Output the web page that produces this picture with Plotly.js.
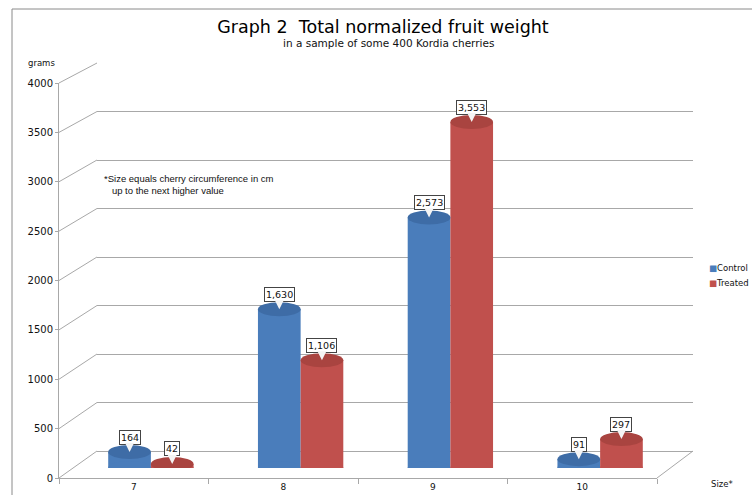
<!DOCTYPE html>
<html>
<head>
<meta charset="utf-8">
<script src="https://cdn.plot.ly/plotly-3.0.1.min.js"></script>
<style>html,body{margin:0;padding:0;background:#fff;}#chart{width:752px;height:495px;}</style>
</head>
<body>
<div id="chart"></div>
<script>
// ---- data ----
const categories = [7, 8, 9, 10];
const tickLabels = ['7', '8', '9', '10'];
const seriesNames = ['Control', 'Treated'];
const controlValues = [164, 1630, 2573, 91];
const treatedValues = [42, 1106, 3553, 297];
const yTicks = [0, 500, 1000, 1500, 2000, 2500, 3000, 3500, 4000];

// ---- styling ----
const W = 752, H = 495;
const px = x => x / W;
const py = y => 1 - y / H;
const FONT = 'DejaVu Sans, sans-serif';
const sideColors = ['#4a7dbb', '#c0504d'];
const topColors = ['#3e6ca6', '#a94440'];
const gridColor = '#a8a8a8';
const barW = 0.285;
const series = [controlValues, treatedValues];

const frontY = [py(478), py(83)];
const backY = [py(451), py(63)];
const yMax = 4000;

const traces = [
  {x: [], y: [], type: 'scatter', xaxis: 'x', yaxis: 'y', showlegend: false, hoverinfo: 'skip'},
  {x: [], y: [], type: 'scatter', xaxis: 'x2', yaxis: 'y2', showlegend: false, hoverinfo: 'skip'}
];
series.forEach((vals, i) => {
  traces.push({
    type: 'bar', name: seriesNames[i], x: categories, y: vals,
    xaxis: 'x3', yaxis: 'y3', width: barW, offset: i === 0 ? -barW : 0,
    marker: {color: sideColors[i], line: {width: 0}},
    hoverinfo: 'skip', showlegend: false
  });
});

const shapes = [];
// 3D connectors from front axis to back wall
yTicks.forEach(v => {
  const f = frontY[0] + v / yMax * (frontY[1] - frontY[0]);
  const b = backY[0] + v / yMax * (backY[1] - backY[0]);
  shapes.push({type: 'line', xref: 'paper', yref: 'paper', x0: px(59), y0: f, x1: px(97), y1: b,
    line: {color: gridColor, width: 1}, layer: 'below'});
});
shapes.push({type: 'line', xref: 'paper', yref: 'paper', x0: px(657), y0: frontY[0], x1: px(693), y1: backY[0],
  line: {color: gridColor, width: 1}, layer: 'below'});
// chart frame
shapes.push({type: 'rect', xref: 'paper', yref: 'paper', x0: px(12), y0: py(9), x1: px(800), y1: py(540),
  line: {color: '#8a8a8a', width: 1}, layer: 'below'});

const annotations = [];
series.forEach((vals, i) => {
  vals.forEach((v, j) => {
    const xc = categories[j] + (i === 0 ? -barW / 2 : barW / 2);
    // cylinder bottom and top ellipses
    shapes.push({type: 'circle', xref: 'x3', yref: 'y3', x0: xc - barW / 2, x1: xc + barW / 2,
      ysizemode: 'pixel', yanchor: 0, y0: -7, y1: 7, fillcolor: sideColors[i], line: {width: 0}});
    shapes.push({type: 'circle', xref: 'x3', yref: 'y3', x0: xc - barW / 2, x1: xc + barW / 2,
      ysizemode: 'pixel', yanchor: v, y0: -7, y1: 7, fillcolor: topColors[i], line: {width: 0}});
    annotations.push({xref: 'x3', yref: 'y3', x: xc, y: v, text: v.toLocaleString('en-US'),
      showarrow: true, ax: 0, ay: -15, arrowhead: 2, arrowsize: 1.2, arrowwidth: 1.5, arrowcolor: '#f4f4f4', standoff: 0,
      bgcolor: '#ffffff', bordercolor: '#444', borderwidth: 1, borderpad: 1,
      font: {family: FONT, size: 9.5, color: '#111'}});
  });
});

// subtitle, notes, axis labels, legend
annotations.push({xref: 'paper', yref: 'paper', x: px(388), y: py(43), text: 'in a sample of some 400 Kordia cherries',
  showarrow: false, font: {family: FONT, size: 10.5, color: '#111'}, xanchor: 'center', yanchor: 'middle'});
annotations.push({xref: 'paper', yref: 'paper', x: px(102), y: py(185),
  text: '*Size equals cherry circumference in cm<br>   up to the next higher value',
  align: 'left', showarrow: false, font: {family: 'Liberation Sans, Arial, sans-serif', size: 9.5, color: '#111'},
  xanchor: 'left', yanchor: 'middle'});
annotations.push({xref: 'paper', yref: 'paper', x: px(26), y: py(63), text: 'grams', showarrow: false,
  font: {family: FONT, size: 8.5, color: '#111'}, xanchor: 'left', yanchor: 'middle'});
annotations.push({xref: 'paper', yref: 'paper', x: px(709), y: py(484), text: 'Size*', showarrow: false,
  font: {family: FONT, size: 8.5, color: '#111'}, xanchor: 'left', yanchor: 'middle'});
seriesNames.forEach((n, i) => {
  annotations.push({xref: 'paper', yref: 'paper', x: px(707), y: py(268 + 15 * i),
    text: '<span style="color:' + sideColors[i] + '">■</span>' + n, showarrow: false,
    font: {family: FONT, size: 8.5, color: '#111'}, xanchor: 'left', yanchor: 'middle'});
});

const layout = {
  width: W, height: H,
  margin: {l: 0, r: 0, t: 0, b: 0},
  paper_bgcolor: '#ffffff', plot_bgcolor: 'rgba(0,0,0,0)',
  showlegend: false, barmode: 'overlay',
  title: {text: 'Graph 2  Total normalized fruit weight', x: px(383), xanchor: 'center', y: py(27), yanchor: 'middle',
    font: {family: FONT, size: 17.5, color: '#000'}},
  xaxis: {domain: [px(59), px(657)], range: [6.5, 10.5], anchor: 'y', tickvals: categories, ticktext: tickLabels,
    ticks: '', showgrid: false, zeroline: false, showline: true, linecolor: gridColor, linewidth: 1,
    tickfont: {family: FONT, size: 9, color: '#111'},
    minor: {ticks: 'outside', tick0: 6.5, dtick: 1, ticklen: 5, tickcolor: gridColor, showgrid: false}},
  yaxis: {domain: frontY, range: [0, yMax], anchor: 'x', tickvals: yTicks, ticks: 'outside', ticklen: 3,
    tickcolor: gridColor, showgrid: false, zeroline: false, showline: true, linecolor: gridColor, linewidth: 1,
    tickfont: {family: FONT, size: 10, color: '#111'}},
  xaxis2: {domain: [px(97), px(693)], range: [0, 1], anchor: 'y2', visible: false, showgrid: false},
  yaxis2: {domain: backY, range: [0, yMax], anchor: 'x2', tickvals: yTicks, showticklabels: false, ticks: '',
    showgrid: true, gridcolor: gridColor, gridwidth: 1, zeroline: true, zerolinecolor: gridColor, zerolinewidth: 1, showline: false},
  xaxis3: {domain: [px(76), px(675)], range: [6.5, 10.5], anchor: 'y3', visible: false},
  yaxis3: {domain: [py(468), py(78.5)], range: [0, yMax], anchor: 'x3', visible: false},
  shapes: shapes,
  annotations: annotations
};

Plotly.newPlot('chart', traces, layout, {displayModeBar: false, staticPlot: true});
</script>
</body>
</html>
